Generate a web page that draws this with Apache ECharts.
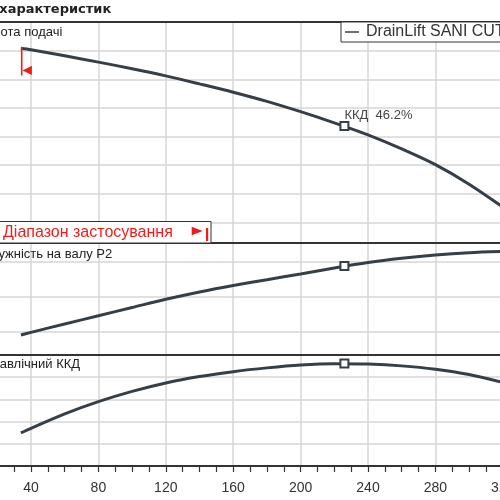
<!DOCTYPE html>
<html><head><meta charset="utf-8">
<script src="https://cdn.jsdelivr.net/npm/echarts@6/dist/echarts.min.js"></script>
<style>html,body{margin:0;padding:0;background:#fff}#c{width:500px;height:500px}</style>
</head><body><div id="c"></div>
<script>
// ---- data ----
const flowQ   = [34, 40, 60, 80, 100, 120, 140, 160, 180, 200, 220, 240, 260, 280, 300, 320];
const headH   = [7.08, 7.03, 6.82, 6.60, 6.37, 6.12, 5.84, 5.55, 5.23, 4.87, 4.48, 4.06, 3.57, 3.02, 2.34, 1.54];
const powerP2 = [0.183, 0.198, 0.246, 0.293, 0.340, 0.387, 0.429, 0.466, 0.499, 0.532, 0.566, 0.597, 0.621, 0.640, 0.653, 0.660];
const effEta  = [14.9, 17.0, 23.5, 29.0, 33.6, 37.4, 40.3, 42.5, 44.2, 45.5, 46.1, 45.9, 45.1, 43.6, 41.2, 37.6];
const dutyQ   = [226];
const dutyH   = [4.37];
const dutyP   = [0.577];
const dutyEta = [46.2];
const rangeStartQ = [34];
const rangeStartH = [7.08];
const xRange = [0, 320];
const xStep = 40;
const headRange = [0.286, 8];
const powerRange = [0.0686, 0.7086];
const effRange = [0, 50];
const effStep = 10;
const seriesName = 'DrainLift SANI CUT';
const titleText = 'Криві характеристик';
const headLabel = 'Висота подачі';
const powerLabel = 'Потужність на валу P2';
const effLabel = 'Гідравлічний ККД';
const rangeLabel = 'Діапазон застосування';
const dutyLabel = 'ККД  ' + dutyEta[0].toFixed(1) + '%';

const zip = (xs, ys) => xs.map((x, i) => [x, ys[i]]);
const CURVE = '#363f48', GRID = '#d6d6d6', DARK = '#333333', RED = '#f01c1c';
const FONT = '"Liberation Sans", Arial, sans-serif';

const gridCommon = { left: -36.4, width: 539.2, outerBoundsMode: 'none', containLabel: false };
const hiddenY = (gi, range, extra) => Object.assign({
  type: 'value', gridIndex: gi, min: range[0], max: range[1],
  axisLine: { show: false }, axisTick: { show: false }, axisLabel: { show: false },
  splitLine: { show: true, lineStyle: { color: GRID, width: 1.5 } }
}, extra);
const topX = (gi, split) => ({
  type: 'value', gridIndex: gi, position: 'top', min: xRange[0], max: xRange[1], interval: xStep,
  axisLine: { show: true, onZero: false, lineStyle: { color: DARK, width: 2 } },
  axisTick: { show: false }, axisLabel: { show: false },
  splitLine: { show: split, lineStyle: { color: GRID, width: 1.5 } }
});
const lineSeries = (name, gi, ys) => ({
  name, type: 'line', xAxisIndex: gi, yAxisIndex: gi, data: zip(flowQ, ys),
  smooth: 0.3, symbol: 'none', showSymbol: false,
  lineStyle: { color: CURVE, width: 3 }, itemStyle: { color: CURVE }, z: 3
});
const dutySeries = (name, gi, ys, label) => ({
  name, type: 'scatter', xAxisIndex: gi, yAxisIndex: gi, data: zip(dutyQ, ys),
  symbol: 'rect', symbolSize: 8,
  itemStyle: { color: '#fff', borderColor: CURVE, borderWidth: 2, opacity: 1 },
  label: label ? { show: true, formatter: label, position: [5, -12], fontSize: 13, color: '#444', fontFamily: FONT } : { show: false },
  z: 5
});

const chart = echarts.init(document.getElementById('c'), null, { renderer: 'canvas' });
chart.setOption({
  animation: false,
  backgroundColor: '#fff',
  title: [
    { text: titleText, left: -47, top: 3, padding: 0, textStyle: { fontSize: 13, fontWeight: 'bold', color: '#222', fontFamily: '"DejaVu Sans", sans-serif' } },
    { text: headLabel, left: -22, top: 26, padding: 0, textStyle: { fontSize: 13, fontWeight: 'normal', color: '#222', fontFamily: FONT } },
    { text: powerLabel, left: -24, top: 248, padding: 0, textStyle: { fontSize: 13, fontWeight: 'normal', color: '#222', fontFamily: FONT } },
    { text: effLabel, left: -25, top: 358, padding: 0, textStyle: { fontSize: 13, fontWeight: 'normal', color: '#222', fontFamily: FONT } }
  ],
  legend: {
    data: [{ name: seriesName, icon: 'rect' }], left: 341, top: 22, orient: 'horizontal',
    backgroundColor: '#fff', borderColor: DARK, borderWidth: 1, padding: [2, 6, 2, 4],
    itemWidth: 14, itemHeight: 1.4, itemGap: 5,
    itemStyle: { color: DARK, borderWidth: 0 },
    textStyle: { fontSize: 16, color: '#333', fontFamily: FONT, padding: [0, 0, 0, 2] }
  },
  grid: [
    Object.assign({ top: 22, height: 221 }, gridCommon),
    Object.assign({ top: 243, height: 112 }, gridCommon),
    Object.assign({ top: 355, height: 111 }, gridCommon)
  ],
  xAxis: [
    topX(0, true),
    topX(1, true),
    {
      type: 'value', gridIndex: 2, position: 'bottom', min: xRange[0], max: xRange[1], interval: xStep,
      axisLine: { show: true, onZero: false, lineStyle: { color: DARK, width: 2 } },
      axisTick: { show: true, length: 6, lineStyle: { color: DARK, width: 1.2 } },
      minorTick: { show: true, splitNumber: 4, length: 6, lineStyle: { color: DARK, width: 1.2 } },
      axisLabel: { show: true, fontSize: 14, color: '#333', margin: 15, fontFamily: FONT },
      splitLine: { show: true, lineStyle: { color: GRID, width: 1.5 } }
    },
    topX(2, false)
  ],
  yAxis: [
    hiddenY(0, headRange, { splitNumber: 8 }),
    hiddenY(1, powerRange, { splitNumber: 3 }),
    hiddenY(2, effRange, { interval: effStep })
  ],
  series: [
    Object.assign(lineSeries(seriesName, 0, headH), {
      markPoint: {
        silent: true, animation: false,
        symbol: 'path://M0,0 H1.6 V28.5 H0 Z M1.6,23.3 L11,18.6 L11,28 Z',
        symbolSize: [11, 28.5], symbolOffset: [5.5, 13], symbolKeepAspect: false,
        itemStyle: { color: RED }, label: { show: false },
        data: [{ coord: [rangeStartQ[0], rangeStartH[0]] }]
      }
    }),
    lineSeries('P2', 1, powerP2),
    lineSeries('eta', 2, effEta),
    dutySeries('dutyH', 0, dutyH, dutyLabel),
    dutySeries('dutyP', 1, dutyP, null),
    dutySeries('dutyEta', 2, dutyEta, null)
  ],
  graphic: [
    { type: 'rect', z: 50, shape: { x: -2, y: 221.5, width: 213, height: 21.5 }, style: { fill: '#fff', stroke: DARK, lineWidth: 1 } },
    { type: 'text', z: 51, x: 3, y: 232.5, style: { text: rangeLabel, fill: RED, font: '16px ' + FONT, verticalAlign: 'middle' } },
    { type: 'polygon', z: 51, shape: { points: [[191.7, 226.7], [202.7, 231], [191.7, 235.3]] }, style: { fill: RED } },
    { type: 'rect', z: 51, shape: { x: 206, y: 228, width: 2.2, height: 13 }, style: { fill: RED } }
  ]
});
</script>
</body></html>
